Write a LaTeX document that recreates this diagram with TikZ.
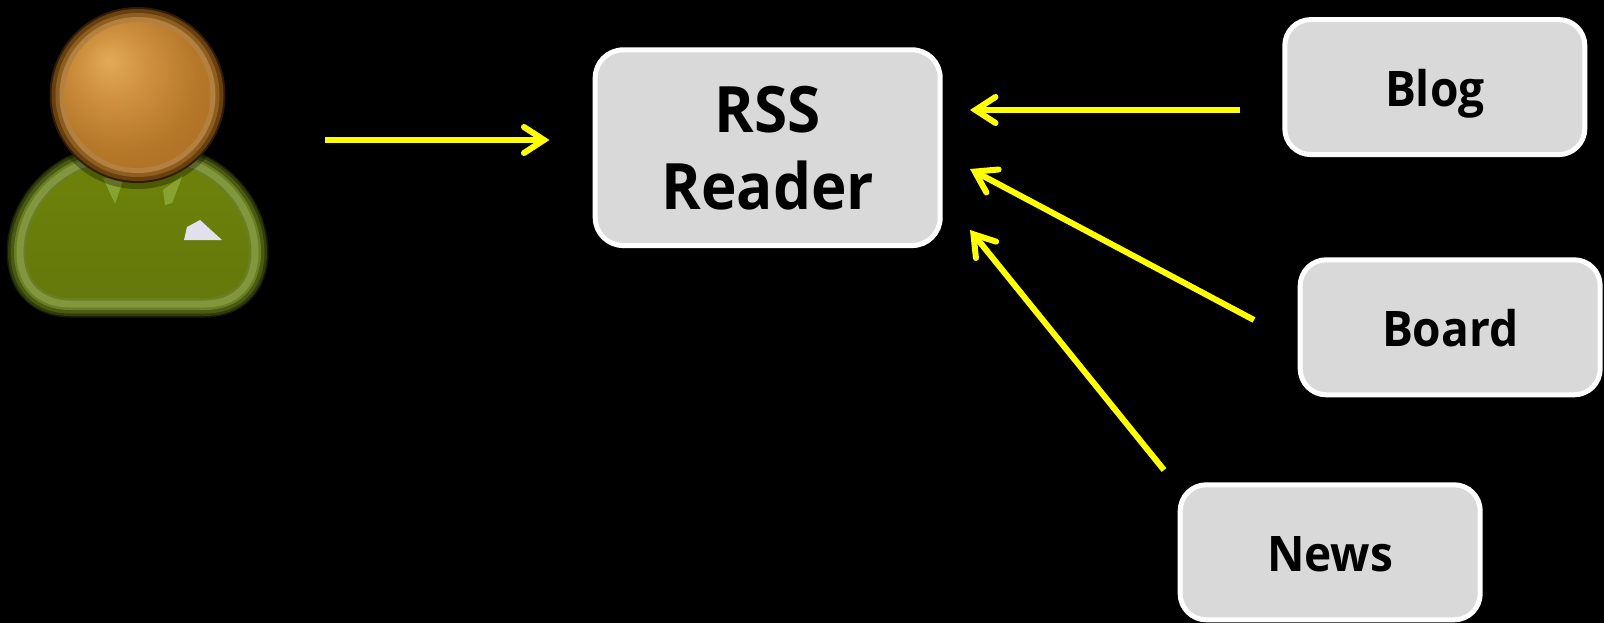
\documentclass[tikz,border=0pt]{standalone}
\usepackage{fontspec}
\setmainfont[FakeStretch=0.94]{Open Sans}
\usetikzlibrary{arrows.meta}
\definecolor{boxfill}{HTML}{D9D9D9}
\definecolor{flow}{HTML}{FFFF00}
\definecolor{edgeA}{RGB}{22,28,4}
\definecolor{edgeB}{RGB}{48,60,10}
\definecolor{edgeC}{RGB}{74,90,18}
\definecolor{ringA}{RGB}{106,126,36}
\definecolor{ringB}{RGB}{130,150,62}
\definecolor{greenTop}{RGB}{110,130,10}
\definecolor{greenBot}{RGB}{100,120,12}
\definecolor{collar}{RGB}{138,162,48}
\definecolor{pocket}{RGB}{226,224,236}
\definecolor{headA}{RGB}{48,28,6}
\definecolor{headB}{RGB}{104,64,16}
\definecolor{headC}{RGB}{142,94,32}
\definecolor{headD}{RGB}{180,128,64}
\pgfdeclareradialshading{headshade}{\pgfpoint{-10bp}{12bp}}{
  rgb(0bp)=(0.89,0.67,0.34);
  rgb(10bp)=(0.82,0.58,0.26);
  rgb(26bp)=(0.71,0.47,0.16);
  rgb(42bp)=(0.67,0.43,0.14);
  rgb(60bp)=(0.66,0.43,0.17)}
\tikzset{
  sourcebox/.style={draw=white,line width=5pt,fill=boxfill,rounded corners=26pt,
    minimum width=300pt,minimum height=135pt,inner sep=0pt,
    font=\fontsize{49}{58}\selectfont\bfseries,text=black,text height=39pt,text depth=0pt},
  readerbox/.style={draw=white,line width=5pt,fill=boxfill,rounded corners=28pt,
    minimum width=345pt,minimum height=195.7pt,inner sep=0pt,align=center,
    font=\fontsize{64}{77}\selectfont\bfseries,text=black},
  flowline/.style={draw=flow,line width=6pt,
    -{Straight Barb[length=20pt,width=26pt,line cap=round]}},
  bodystroke/.style={line width=#1,line join=round},
}
\newcommand{\bodyring}{(97,160) .. controls (50,170) and (20,212) .. (20,252)
  .. controls (20,285) and (40,304) .. (70,304) -- (205,304)
  .. controls (235,304) and (255,285) .. (255,252)
  .. controls (255,212) and (225,170) .. (178,160)}
\begin{document}
\begin{tikzpicture}[x=1pt,y=-1pt]
\useasboundingbox[fill=black] (0,0) rectangle (1604,623);
% user figure
\draw[bodystroke=27pt,edgeA] \bodyring;
\draw[bodystroke=24pt,edgeB] \bodyring;
\draw[bodystroke=19pt,edgeC] \bodyring;
\fill[top color=greenTop,bottom color=greenBot] \bodyring -- cycle;
\draw[bodystroke=12pt,ringA] \bodyring;
\draw[bodystroke=7pt,ringB] \bodyring;
\fill[collar] (103,178) -- (124,178) -- (115,204) -- cycle;
\fill[collar] (183,175) -- (163,190) -- (165,205) -- (172,203) -- cycle;
\fill[pocket] (184,240) -- (187,227) -- (200,220) -- (222,240) -- cycle;
\fill[black,opacity=.3] (137.5,98) circle (91);
\fill[headA] (137.5,95) circle (88);
\fill[headB] (137.5,95) circle (86);
\fill[headC] (137.5,95) circle (82);
\fill[headD] (137.5,95) circle (78);
\shade[shading=headshade] (137.5,95) circle (73);
% boxes
\node[readerbox] (reader) at (767.7,147.7) {RSS\\Reader};
\node[sourcebox] (blog) at (1434.8,87.1) {Blog};
\node[sourcebox] (board) at (1450.2,327.3) {Board};
\node[sourcebox] (news) at (1330.2,552.3) {News};
% connector ends
\coordinate (userout) at (325,140);
\coordinate (readerin) at (549.5,140);
\coordinate (blogout) at (1240,110);
\coordinate (blogin) at (970,110);
\coordinate (boardout) at (1254,320);
\coordinate (boardin) at (970,169);
\coordinate (newsout) at (1164,470);
\coordinate (newsin) at (970,230);
\draw[flowline] (userout) -- (readerin);
\draw[flowline] (blogout) -- (blogin);
\draw[flowline] (boardout) -- (boardin);
\draw[flowline] (newsout) -- (newsin);
\end{tikzpicture}
\end{document}
